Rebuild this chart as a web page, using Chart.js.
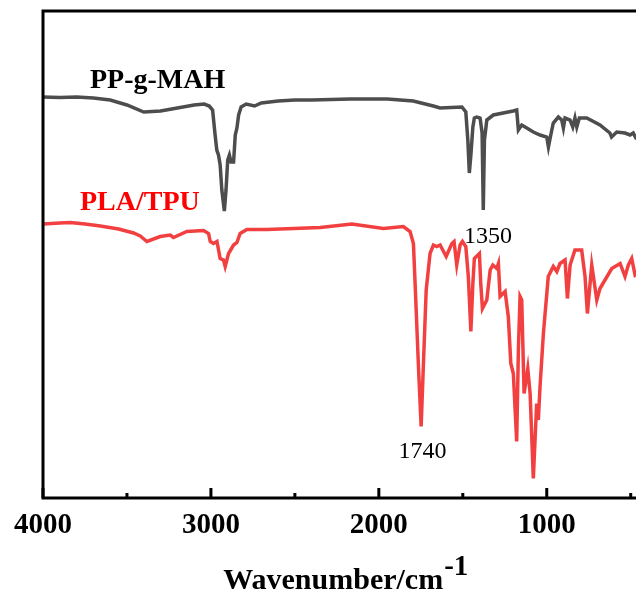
<!DOCTYPE html>
<html>
<head>
<meta charset="utf-8">
<script src="https://cdn.jsdelivr.net/npm/chart.js@4"></script>
<style>
  html, body { margin: 0; padding: 0; background: #fff; overflow: hidden; }
  #wrap { width: 652px; height: 596px; }
</style>
</head>
<body>
<div id="wrap"><canvas id="ftirChart" width="652" height="596"></canvas></div>
<script>
// PP-g-MAH spectrum (wavenumber, transmittance a.u.)
const ppWave = [4000,3900,3800,3700,3600,3500,3400,3300,3200,3100,3040,3010,2990,2975,2965,2955,2945,2935,2920,2910,2900,2890,2880,2865,2855,2845,2835,2820,2790,2740,2700,2600,2500,2400,2170,1950,1795,1675,1635,1505,1482,1470,1461,1451,1440,1431,1417,1397,1385,1378,1371,1357,1318,1200,1179,1169,1149,1119,1080,1040,1000,990,976,961,931,911,901,891,861,845,832,821,806,762,683,624,614,583,534,504,485,469,400];
const ppT = [80.2,80.1,80.2,80.0,79.6,78.6,77.2,77.4,78.0,78.6,78.8,78.4,77.6,72.6,69.6,68.6,66.6,61.6,57.4,61.6,67.6,68.6,67.2,67.2,72.6,74.0,76.6,78.2,78.8,78.4,79.0,79.4,79.6,79.6,79.8,79.8,79.4,78.4,78.0,78.2,77.2,71.6,65.0,69.0,74.2,76.0,76.2,76.0,73.0,57.6,71.6,75.6,76.6,77.4,77.6,73.6,74.6,74.0,73.2,72.6,72.2,70.2,72.6,75.0,76.2,75.6,74.0,76.0,75.6,74.2,76.0,74.2,76.0,76.0,74.6,73.0,72.2,73.2,73.0,72.6,73.0,72.0,72.0];

// PLA/TPU spectrum
const plaWave = [4000,3900,3838,3750,3659,3550,3461,3421,3381,3302,3242,3223,3143,3044,3014,3004,2985,2964,2945,2925,2915,2895,2865,2845,2826,2786,2667,2349,2161,1973,1854,1814,1794,1784,1764,1748,1735,1718,1695,1675,1655,1635,1599,1565,1552,1536,1516,1502,1482,1467,1452,1440,1431,1401,1393,1383,1357,1337,1321,1298,1288,1278,1248,1229,1214,1199,1179,1169,1159,1149,1135,1113,1099,1080,1060,1050,1040,1020,991,961,940,921,891,877,861,832,792,772,758,732,702,683,613,563,534,514,494,474,430,400];
const plaT = [54.8,55.0,55.1,54.8,54.4,53.8,53.0,52.4,51.3,52.3,52.6,52.1,53.3,53.5,52.9,51.3,50.9,51.3,47.9,47.6,46.3,48.9,50.6,51.1,52.9,53.7,53.7,54.1,54.8,53.9,54.3,53.3,50.9,42.9,26.3,14.3,26.3,41.6,48.9,50.6,50.3,50.6,48.3,50.9,51.3,46.6,50.6,51.3,50.3,44.3,33.3,42.9,47.9,48.9,42.9,37.9,39.6,45.6,46.6,45.9,46.9,40.3,41.3,36.3,26.9,24.9,11.3,29.6,40.3,39.6,20.9,25.9,20.9,3.9,18.9,15.6,22.3,32.9,44.3,46.3,45.3,46.9,47.6,39.9,46.6,49.6,49.6,44.3,36.9,46.6,39.6,41.9,45.9,46.9,44.3,46.6,47.9,44.6,45.6,46.0];

const tickValues = [500,1000,1500,2000,2500,3000,3500,4000];
const peakText = ['1350','1740'];
const peakWave = [1350,1740];
const peakLevel = [51,8];

const serif = '"Liberation Serif", "Times New Roman", serif';

function toPoints(xs, ys) {
  return xs.map((w, i) => ({ x: w, y: ys[i] }));
}

const decorations = {
  id: 'decorations',
  afterDraw(chart) {
    const { ctx, chartArea: a, scales: { x, y } } = chart;
    ctx.save();
    // frame
    ctx.strokeStyle = '#000';
    ctx.lineWidth = 3;
    ctx.beginPath();
    ctx.moveTo(a.left, a.top);
    ctx.lineTo(a.right, a.top);
    ctx.lineTo(a.right, a.bottom);
    ctx.lineTo(a.left, a.bottom);
    ctx.closePath();
    ctx.stroke();
    // inward ticks
    tickValues.forEach(v => {
      const px = x.getPixelForValue(v);
      const len = v % 1000 === 0 ? 10 : 5;
      ctx.beginPath();
      ctx.moveTo(px, a.bottom);
      ctx.lineTo(px, a.bottom - len);
      ctx.stroke();
    });

    // series labels
    ctx.font = 'bold 28px ' + serif;
    ctx.textAlign = 'left';
    ctx.textBaseline = 'alphabetic';
    ctx.fillStyle = '#000';
    ctx.fillText('PP-g-MAH', 90, 88);
    ctx.fillStyle = '#ff0000';
    ctx.fillText('PLA/TPU', 80, 210);

    // peak labels
    ctx.font = '24px ' + serif;
    ctx.fillStyle = '#000';
    ctx.textAlign = 'center';
    peakText.forEach((t, i) => {
      ctx.fillText(t, x.getPixelForValue(peakWave[i]), y.getPixelForValue(peakLevel[i]));
    });

    // axis title with superscript
    const main = 'Wavenumber/cm';
    const sup = '-1';
    ctx.font = 'bold 30px ' + serif;
    const w1 = ctx.measureText(main).width;
    ctx.font = 'bold 29px ' + serif;
    const w2 = ctx.measureText(sup).width;
    const cx = (a.left + a.right) / 2;
    const start = cx - (w1 + w2) / 2;
    ctx.textAlign = 'left';
    ctx.font = 'bold 30px ' + serif;
    ctx.fillText(main, start, 589);
    ctx.font = 'bold 29px ' + serif;
    ctx.fillText(sup, start + w1 + 1, 575);
    ctx.restore();
  }
};

new Chart(document.getElementById('ftirChart'), {
  type: 'line',
  data: {
    datasets: [
      {
        label: 'PP-g-MAH',
        data: toPoints(ppWave, ppT),
        borderColor: 'rgb(77, 77, 77)',
        borderWidth: 3.5,
        pointRadius: 0,
        tension: 0,
        fill: false
      },
      {
        label: 'PLA/TPU',
        data: toPoints(plaWave, plaT),
        borderColor: 'rgb(242, 64, 64)',
        borderWidth: 3.5,
        pointRadius: 0,
        tension: 0,
        fill: false
      }
    ]
  },
  options: {
    responsive: false,
    animation: false,
    devicePixelRatio: 1,
    layout: { padding: { top: 11, left: 43, right: 4.5, bottom: 0 } },
    plugins: { legend: { display: false }, tooltip: { enabled: false } },
    scales: {
      x: {
        type: 'linear',
        reverse: true,
        min: 400,
        max: 4000,
        grid: { display: false, drawTicks: false },
        border: { display: false },
        afterBuildTicks: (scale) => { scale.ticks = tickValues.map(v => ({ value: v })); },
        afterFit: (scale) => { scale.height = 98; },
        ticks: {
          autoSkip: false,
          maxRotation: 0,
          padding: 10,
          color: '#000',
          font: { family: serif, size: 29, weight: 'bold' },
          callback: (v) => (v % 1000 === 0 ? String(v) : '')
        }
      },
      y: {
        display: false,
        min: 0,
        max: 97.4
      }
    }
  },
  plugins: [decorations]
});
</script>
</body>
</html>
